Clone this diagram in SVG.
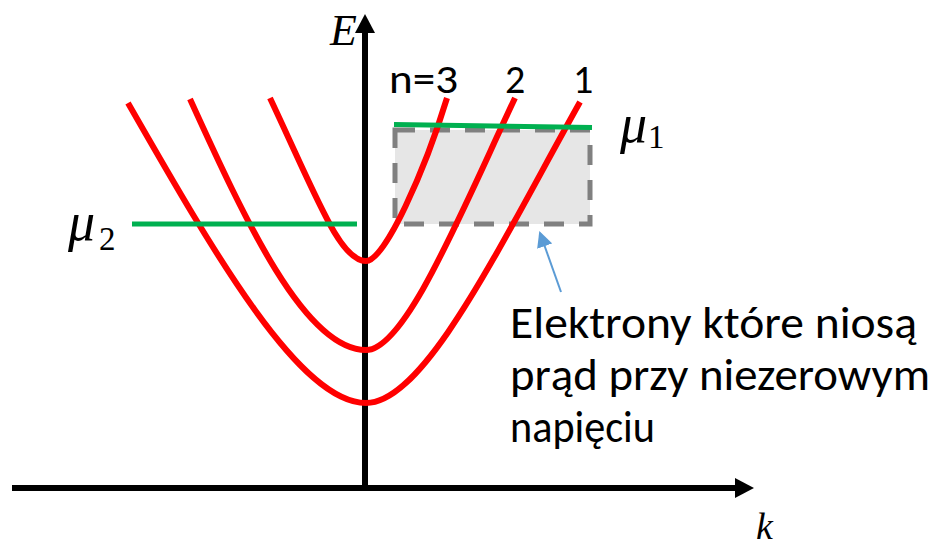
<svg xmlns="http://www.w3.org/2000/svg" width="940" height="551" viewBox="0 0 940 551">
<style>
.axis{stroke:#000;stroke-width:6;fill:none}
.band{stroke:#FF0000;stroke-width:6;fill:none;stroke-linecap:butt}
.mu{stroke:#00B050;stroke-width:5;fill:none}
.lbl{font-family:Carlito,Lato,'Open Sans',sans-serif;fill:#000}
.math{font-family:'Liberation Serif','DejaVu Serif',serif;fill:#000}
</style>
<defs>
<marker id="blueHead" markerWidth="8" markerHeight="8" refX="7" refY="4" orient="auto" markerUnits="strokeWidth">
<path d="M0,0 L8,4 L0,8 Z" fill="#5B9BD5"/>
</marker>
</defs>
<rect width="940" height="551" fill="#fff"/>
<g id="window">
<rect x="395" y="130" width="195" height="94" fill="#E6E6E6" stroke="#808080" stroke-width="5" stroke-dasharray="20 15"/>
</g>
<g id="axes">
<line class="axis" x1="12" y1="488" x2="738" y2="488"/>
<path d="M754,488 L735,478 L735,498 Z" fill="#000"/>
<line class="axis" x1="365" y1="491" x2="365" y2="30"/>
<path d="M365,14 L355,33 L375,33 Z" fill="#000"/>
</g>
<g id="bands">
<path id="band1" class="band" d="M128,103 C215,255 300,403 366,403 C425,403 500,245 580,102"/>
<path id="band2" class="band" d="M190,99 C245,220 305,350 366,350 C405,350 460,215 515,98"/>
<path id="band3" class="band" d="M270,98 C318,200 340,261 366,261 C385,261 425,170 447,98"/>
</g>
<g id="levels">
<line id="mu1line" class="mu" x1="394" y1="124.5" x2="592" y2="127.5"/>
<line id="mu2line" class="mu" x1="132" y1="224" x2="357" y2="224"/>
</g>
<g id="connectors">
<line x1="561" y1="292" x2="540" y2="233" stroke="#5B9BD5" stroke-width="2" marker-end="url(#blueHead)"/>
</g>
<g id="labels">
<text class="math" x="330" y="45" font-size="44" font-style="italic">E</text>
<text class="math" x="756" y="539" font-size="38" font-style="italic">k</text>
<text class="math" x="620" y="142" font-size="54" font-style="italic">μ</text>
<text class="math" x="648" y="148" font-size="33">1</text>
<text class="math" x="68" y="240" font-size="54" font-style="italic">μ</text>
<text class="math" x="99" y="250" font-size="33">2</text>
<text class="lbl" x="389" y="93" font-size="40" textLength="69" lengthAdjust="spacingAndGlyphs">n=3</text>
<text class="lbl" x="505" y="93" font-size="40">2</text>
<text class="lbl" x="573" y="93" font-size="40">1</text>
</g>
<g id="note">
<text class="lbl" x="510" y="338" font-size="46" textLength="407" lengthAdjust="spacingAndGlyphs">Elektrony które niosą</text>
<text class="lbl" x="510" y="390" font-size="46" textLength="420" lengthAdjust="spacingAndGlyphs">prąd przy niezerowym</text>
<text class="lbl" x="510" y="442" font-size="46" textLength="145" lengthAdjust="spacingAndGlyphs">napięciu</text>
</g>
</svg>
